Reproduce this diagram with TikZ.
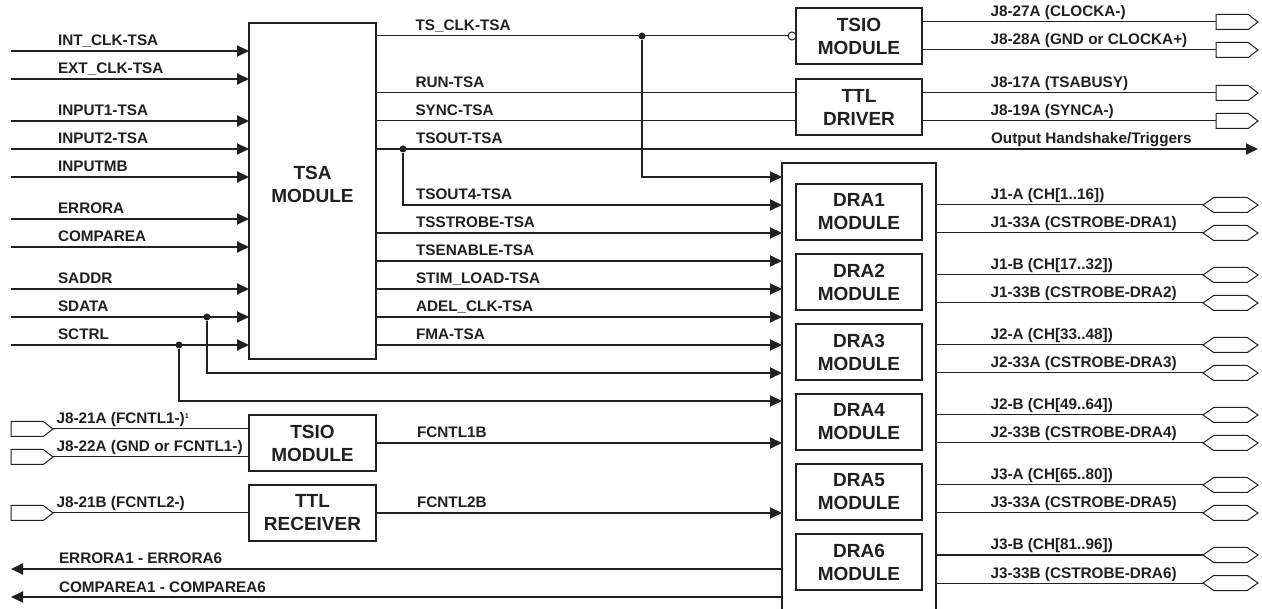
\documentclass[tikz,border=0pt]{standalone}
\usepackage{fontspec}
\setmainfont{Liberation Sans}
\usepackage{tikz}
\usetikzlibrary{positioning,arrows.meta,shapes.symbols}
\definecolor{ink}{RGB}{35,31,32}
\newcommand{\lblfont}{\fontsize{15.3}{17}\selectfont\bfseries}
\newcommand{\modfont}{\fontsize{19}{23}\selectfont\bfseries}
\tikzset{
  sigarr/.style={-{Triangle[length=12pt,width=11pt]},line width=2pt,draw=ink},
  sigthin/.style={line width=1pt,draw=ink},
  boxline/.style={line width=1.2pt,draw=ink},
  block/.style={draw=ink,line width=1.2pt,minimum width=126pt,minimum height=56pt,
                inner sep=0pt,outer sep=0pt,align=center,font=\modfont,text=ink},
  lbl/.style={font=\lblfont,text=ink,anchor=base west,inner sep=0pt,yshift=5pt},
  outcon/.style={signal,signal to=east,signal pointer angle=75,draw=ink,line width=1pt,
                 minimum width=42pt,minimum height=15pt,inner sep=0pt,outer sep=0pt},
  biocon/.style={signal,signal to=east and west,signal pointer angle=70,draw=ink,line width=1pt,
                 minimum width=55pt,minimum height=15pt,inner sep=0pt,outer sep=0pt},
  jdot/.style={circle,fill=ink,inner sep=0pt,minimum size=7pt},
  bubble/.style={circle,draw=ink,fill=white,line width=1pt,inner sep=0pt,minimum size=8pt}
}

\begin{document}
\begin{tikzpicture}[x=1pt,y=-1pt]
\useasboundingbox (0,0) rectangle (1262,609);

% TSA module and its inputs
\node[block,minimum width=127pt,minimum height=336pt] (tsa) at (312.5,191) {};
\node[font=\modfont,text=ink,align=center] (tsatxt) at (312.5,184) {TSA\\MODULE};

\coordinate (intclk) at (11,51);
\coordinate (extclk) at (11,79);
\coordinate (inp1) at (11,121);
\coordinate (inp2) at (11,149);
\coordinate (inpmb) at (11,177);
\coordinate (errora) at (11,219);
\coordinate (comparea) at (11,247);
\coordinate (saddr) at (11,289);
\coordinate (sdata) at (11,317);
\coordinate (sctrl) at (11,345);

\draw[sigarr] (intclk) -- (intclk -| tsa.west) node[lbl,at start,xshift=46pt] {INT\_CLK-TSA};
\draw[sigarr] (extclk) -- (extclk -| tsa.west) node[lbl,at start,xshift=46pt] {EXT\_CLK-TSA};
\draw[sigarr] (inp1) -- (inp1 -| tsa.west) node[lbl,at start,xshift=46pt] {INPUT1-TSA};
\draw[sigarr] (inp2) -- (inp2 -| tsa.west) node[lbl,at start,xshift=46pt] {INPUT2-TSA};
\draw[sigarr] (inpmb) -- (inpmb -| tsa.west) node[lbl,at start,xshift=46pt] {INPUTMB};
\draw[sigarr] (errora) -- (errora -| tsa.west) node[lbl,at start,xshift=46pt] {ERRORA};
\draw[sigarr] (comparea) -- (comparea -| tsa.west) node[lbl,at start,xshift=46pt] {COMPAREA};
\draw[sigarr] (saddr) -- (saddr -| tsa.west) node[lbl,at start,xshift=46pt] {SADDR};
\draw[sigarr] (sdata) -- (sdata -| tsa.west) node[lbl,at start,xshift=46pt] {SDATA};
\draw[sigarr] (sctrl) -- (sctrl -| tsa.west) node[lbl,at start,xshift=46pt] {SCTRL};

% DRA rack
\node[minimum width=154pt,minimum height=446pt,inner sep=0pt,outer sep=0pt] (big) at (859,386) {};
\draw[boxline] (big.south west) |- (big.north east) -- (big.south east);
\node[block] (dra1) at (859,212) {DRA1\\MODULE};
\node[block,below=14pt of dra1] (dra2) {DRA2\\MODULE};
\node[block,below=14pt of dra2] (dra3) {DRA3\\MODULE};
\node[block,below=14pt of dra3] (dra4) {DRA4\\MODULE};
\node[block,below=14pt of dra4] (dra5) {DRA5\\MODULE};
\node[block,below=14pt of dra5] (dra6) {DRA6\\MODULE};

% clock and driver outputs
\node[block] (tsiot) at (859,36) {TSIO\\MODULE};
\node[block,below=15pt of tsiot] (ttld) {TTL\\DRIVER};
\node[outcon,anchor=west] (j827a) at (1216,22) {};
\node[outcon,anchor=west] (j828a) at (1216,50) {};
\node[outcon,anchor=west] (j817a) at (1216,93) {};
\node[outcon,anchor=west] (j819a) at (1216,121) {};
\draw[sigthin] (tsiot.east |- j827a) -- (j827a.west) node[lbl,at start,xshift=68pt] {J8-27A (CLOCKA-)};
\draw[sigthin] (tsiot.east |- j828a) -- (j828a.west) node[lbl,at start,xshift=68pt] {J8-28A (GND or CLOCKA+)};
\draw[sigthin] (ttld.east |- j817a) -- (j817a.west) node[lbl,at start,xshift=68pt] {J8-17A (TSABUSY)};
\draw[sigthin] (ttld.east |- j819a) -- (j819a.west) node[lbl,at start,xshift=68pt] {J8-19A (SYNCA-)};

% TSA outputs
\node[jdot] (dclk) at (642,36) {};
\node[bubble] (bub) at (792,36) {};
\draw[sigthin] (tsa.east |- tsiot) -- (bub.west) node[lbl,at start,xshift=39pt] {TS\_CLK-TSA};
\draw[sigthin] (tsa.east |- j817a) -- (ttld.west |- j817a) node[lbl,at start,xshift=39pt] {RUN-TSA};
\draw[sigthin] (tsa.east |- j819a) -- (ttld.west |- j819a) node[lbl,at start,xshift=39pt] {SYNC-TSA};

\coordinate (hsend) at (1258,149);
\node[jdot] (dout) at (403,149) {};
\draw[sigarr] (tsa.east |- hsend) -- (hsend) node[lbl,at start,xshift=39pt] {TSOUT-TSA}
  node[lbl,at start,xshift=614pt] {Output Handshake/Triggers};

\coordinate (rowclk) at (782,177);
\coordinate (rowts4) at (782,205);
\draw[sigarr] (dclk) |- (rowclk);
\draw[sigarr] (dout) |- (rowts4) node[lbl,pos=0.5,xshift=12pt] {TSOUT4-TSA};

\coordinate (tsstrobe) at (376,233);
\coordinate (tsenable) at (376,261);
\coordinate (stimload) at (376,289);
\coordinate (adelclk) at (376,317);
\coordinate (fma) at (376,345);
\draw[sigarr] (tsstrobe) -- (tsstrobe -| big.west) node[lbl,at start,xshift=39pt] {TSSTROBE-TSA};
\draw[sigarr] (tsenable) -- (tsenable -| big.west) node[lbl,at start,xshift=39pt] {TSENABLE-TSA};
\draw[sigarr] (stimload) -- (stimload -| big.west) node[lbl,at start,xshift=39pt] {STIM\_LOAD-TSA};
\draw[sigarr] (adelclk) -- (adelclk -| big.west) node[lbl,at start,xshift=39pt] {ADEL\_CLK-TSA};
\draw[sigarr] (fma) -- (fma -| big.west) node[lbl,at start,xshift=39pt] {FMA-TSA};

% SDATA / SCTRL also go to the rack
\node[jdot] (dsdata) at (207,317) {};
\node[jdot] (dsctrl) at (179,345) {};
\coordinate (rowsd) at (782,373);
\coordinate (rowsc) at (782,401);
\draw[sigarr] (dsdata) |- (rowsd);
\draw[sigarr] (dsctrl) |- (rowsc);

% front panel control inputs
\node[block,minimum width=127pt] (tsiob) at (312.5,443) {TSIO\\MODULE};
\node[block,minimum width=127pt,below=14pt of tsiob] (ttlr) {TTL\\RECEIVER};
\node[outcon,anchor=east] (j821a) at (53,429) {};
\node[outcon,anchor=east] (j822a) at (53,457) {};
\node[outcon,anchor=east] (j821b) at (53,513) {};
\draw[sigthin] (j821a.east) -- (j821a.east -| tsiob.west)
  node[lbl,at start,xshift=3pt] {J8-21A (FCNTL1-)\textsuperscript{\fontsize{7}{7}\selectfont 1}};
\draw[sigthin] (j822a.east) -- (j822a.east -| tsiob.west) node[lbl,at start,xshift=3pt] {J8-22A (GND or FCNTL1-)};
\draw[sigthin] (j821b.east) -- (j821b.east -| ttlr.west) node[lbl,at start,xshift=3pt] {J8-21B (FCNTL2-)};
\draw[sigarr] (tsiob.east) -- (tsiob.east -| big.west) node[lbl,at start,xshift=40pt] {FCNTL1B};
\draw[sigarr] (ttlr.east) -- (ttlr.east -| big.west) node[lbl,at start,xshift=40pt] {FCNTL2B};

% results back out
\coordinate (errout) at (11,569);
\coordinate (cmpout) at (11,597);
\draw[sigarr] (errout -| big.west) -- (errout) node[lbl,at end,xshift=47pt] {ERRORA1 - ERRORA6};
\draw[sigarr] (cmpout -| big.west) -- (cmpout) node[lbl,at end,xshift=47pt] {COMPAREA1 - COMPAREA6};

% channel connectors
\node[biocon,anchor=west] (j1a) at (1203,205) {};
\node[biocon,anchor=west] (j133a) at (1203,233) {};
\node[biocon,anchor=west] (j1b) at (1203,275) {};
\node[biocon,anchor=west] (j133b) at (1203,303) {};
\node[biocon,anchor=west] (j2a) at (1203,345) {};
\node[biocon,anchor=west] (j233a) at (1203,373) {};
\node[biocon,anchor=west] (j2b) at (1203,415) {};
\node[biocon,anchor=west] (j233b) at (1203,443) {};
\node[biocon,anchor=west] (j3a) at (1203,485) {};
\node[biocon,anchor=west] (j333a) at (1203,513) {};
\node[biocon,anchor=west] (j3b) at (1203,555) {};
\node[biocon,anchor=west] (j333b) at (1203,583) {};
\draw[sigthin] (big.east |- j1a) -- (j1a.west) node[lbl,at start,xshift=54pt] {J1-A (CH[1..16])};
\draw[sigthin] (big.east |- j133a) -- (j133a.west) node[lbl,at start,xshift=54pt] {J1-33A (CSTROBE-DRA1)};
\draw[sigthin] (big.east |- j1b) -- (j1b.west) node[lbl,at start,xshift=54pt] {J1-B (CH[17..32])};
\draw[sigthin] (big.east |- j133b) -- (j133b.west) node[lbl,at start,xshift=54pt] {J1-33B (CSTROBE-DRA2)};
\draw[sigthin] (big.east |- j2a) -- (j2a.west) node[lbl,at start,xshift=54pt] {J2-A (CH[33..48])};
\draw[sigthin] (big.east |- j233a) -- (j233a.west) node[lbl,at start,xshift=54pt] {J2-33A (CSTROBE-DRA3)};
\draw[sigthin] (big.east |- j2b) -- (j2b.west) node[lbl,at start,xshift=54pt] {J2-B (CH[49..64])};
\draw[sigthin] (big.east |- j233b) -- (j233b.west) node[lbl,at start,xshift=54pt] {J2-33B (CSTROBE-DRA4)};
\draw[sigthin] (big.east |- j3a) -- (j3a.west) node[lbl,at start,xshift=54pt] {J3-A (CH[65..80])};
\draw[sigthin] (big.east |- j333a) -- (j333a.west) node[lbl,at start,xshift=54pt] {J3-33A (CSTROBE-DRA5)};
\draw[sigthin] (big.east |- j3b) -- (j3b.west) node[lbl,at start,xshift=54pt] {J3-B (CH[81..96])};
\draw[sigthin] (big.east |- j333b) -- (j333b.west) node[lbl,at start,xshift=54pt] {J3-33B (CSTROBE-DRA6)};
\end{tikzpicture}
\end{document}
